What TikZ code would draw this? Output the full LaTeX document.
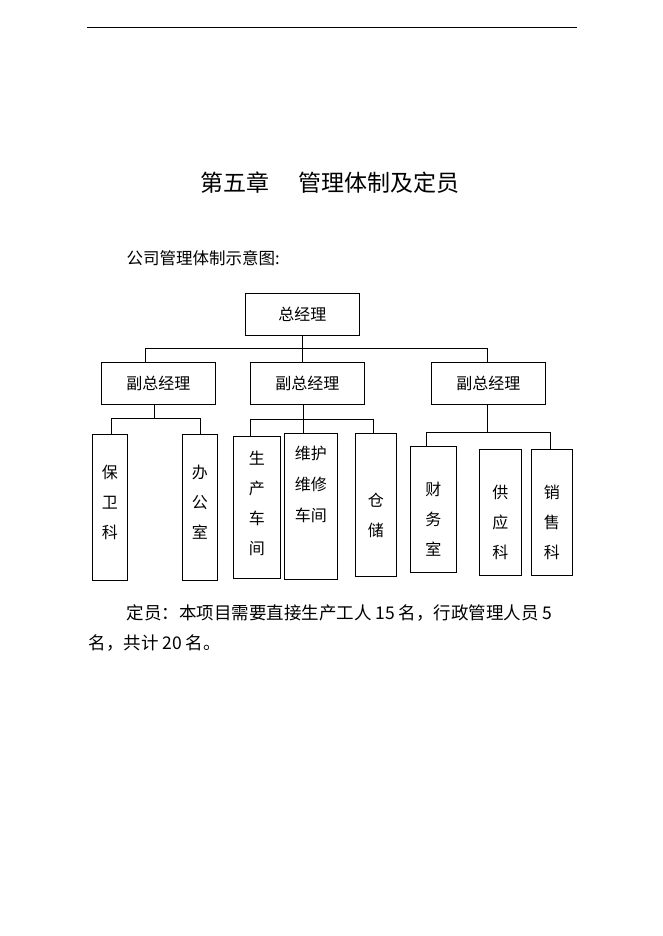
\documentclass[tikz,border=0pt]{standalone}
\usepackage{fontspec}
\newfontfamily\cjk{Noto Sans CJK SC}[Scale=1]
\tikzset{
 bx/.style={draw,line width=0.9pt,anchor=north west,inner sep=0pt},
 ln/.style={line width=0.9pt},
 lab/.style={font=\cjk\fontsize{16}{19}\selectfont,align=center},
}
\begin{document}
\begin{tikzpicture}[x=1pt,y=-1pt]
\useasboundingbox (0,0) rectangle (662,936);
\draw[line width=0.6pt] (87,27) -- (577,27);
\node[font=\cjk\fontsize{23}{26}\selectfont] (title) at (330,183) {第五章\hspace{1.3em}管理体制及定员};
\node[anchor=west,font=\cjk\fontsize{16.5}{18}\selectfont] (cap) at (123,258) {公司管理体制示意图:};
% boxes
\node[bx,minimum width=114pt,minimum height=42pt,lab] (gm) at (245,293) {总经理};
\node[bx,minimum width=114pt,minimum height=42pt,lab] (d1) at (101,362) {副总经理};
\node[bx,minimum width=114pt,minimum height=42pt,lab] (d2) at (250,362) {副总经理};
\node[bx,minimum width=114pt,minimum height=42pt,lab] (d3) at (431,362) {副总经理};
\node[bx,minimum width=35pt,minimum height=146pt] (b1) at (92,434) {};
\node[lab] at ([yshift=5pt]b1.center) {保\\[11pt]卫\\[11pt]科};
\node[bx,minimum width=35pt,minimum height=146pt] (b2) at (182,434) {};
\node[lab] at ([yshift=5pt]b2.center) {办\\[11pt]公\\[11pt]室};
\node[bx,minimum width=47pt,minimum height=142pt] (b3) at (233,436) {};
\node[lab,anchor=north] at ([yshift=-12pt]b3.north) {生\\[11pt]产\\[11pt]车\\[11pt]间};
\node[bx,minimum width=53pt,minimum height=146pt] (b4) at (284,433) {};
\node[lab,anchor=north] at ([yshift=-10pt]b4.north) {维护\\[12pt]维修\\[12pt]车间};
\node[bx,minimum width=41pt,minimum height=143pt] (b5) at (355,433) {};
\node[lab] at ([yshift=-10pt]b5.center) {仓\\[11pt]储};
\node[bx,minimum width=46pt,minimum height=126pt] (b6) at (410,446) {};
\node[lab] at ([yshift=-10pt]b6.center) {财\\[11pt]务\\[11pt]室};
\node[bx,minimum width=42pt,minimum height=126pt] (b7) at (479,449) {};
\node[lab] at ([yshift=-10pt]b7.center) {供\\[11pt]应\\[11pt]科};
\node[bx,minimum width=41pt,minimum height=126pt] (b8) at (531,449) {};
\node[lab] at ([yshift=-10pt]b8.center) {销\\[11pt]售\\[11pt]科};
% connectors
\coordinate (h0) at (302,348);
\draw[ln] (gm.south) -- (gm.south |- h0);
\draw[ln] (145,348) -- (487,348);
\draw[ln] (145,348) -- (145,362);
\draw[ln] (gm.south |- h0) -- (d2.north -| gm.south);
\draw[ln] (487,348) -- (487,362);
\draw[ln] (154,404) -- (154,418);
\draw[ln] (111,418) -- (200,418);
\draw[ln] (111,418) -- (111,434);
\draw[ln] (200,418) -- (200,434);
\draw[ln] (303,404) -- (303,433);
\draw[ln] (250,419) -- (373,419);
\draw[ln] (250,419) -- (250,436);
\draw[ln] (373,419) -- (373,433);
\draw[ln] (487,404) -- (487,432);
\draw[ln] (426,432) -- (550,432);
\draw[ln] (426,432) -- (426,446);
\draw[ln] (550,432) -- (550,449);
\node[anchor=west,font=\cjk\fontsize{17.5}{18}\selectfont] (p1) at (123,613) {定员：本项目需要直接生产工人 15 名，行政管理人员 5};
\node[anchor=west,font=\cjk\fontsize{17.5}{18}\selectfont] (p2) at (85,643) {名，共计 20 名。};
\end{tikzpicture}
\end{document}
